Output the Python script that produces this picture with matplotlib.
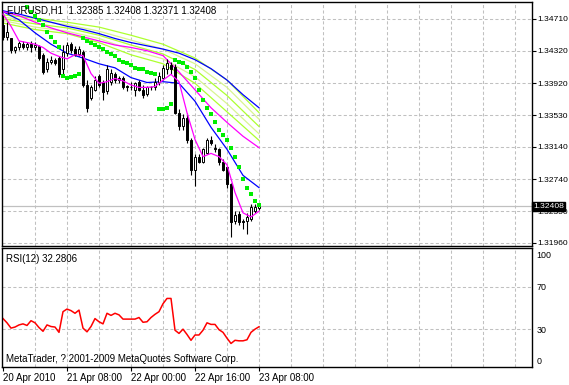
import numpy as np
import matplotlib
matplotlib.use("Agg")
import matplotlib.pyplot as plt

plt.rcParams['font.family'] = ['Liberation Sans', 'DejaVu Sans']

# EURUSD H1 candles, 20 Apr 2010 16:00 .. 23 Apr 2010 07:00
opens = [1.3464, 1.3449, 1.3447, 1.3433, 1.3436, 1.3440, 1.3437, 1.3440, 1.3436, 1.3438,
         1.3427, 1.3409, 1.3418, 1.3421, 1.3423, 1.3409, 1.3429, 1.3440, 1.3434, 1.3428,
         1.3431, 1.3390, 1.3374, 1.3384, 1.3401, 1.3393, 1.3382, 1.3394, 1.3404, 1.3396,
         1.3399, 1.3389, 1.3387, 1.3384, 1.3393, 1.3384, 1.3379, 1.3387, 1.3387, 1.3393,
         1.3399, 1.3409, 1.3415, 1.3412, 1.3355, 1.3339, 1.3350, 1.3323, 1.3286, 1.3301,
         1.3296, 1.3307, 1.3323, 1.3313, 1.3311, 1.3295, 1.3289, 1.3268, 1.3223, 1.3231,
         1.3223, 1.3223, 1.3225, 1.3235, 1.32385]
highs = [1.3478, 1.3467, 1.3448, 1.3438, 1.3444, 1.3444, 1.3443, 1.3444, 1.3443, 1.3439,
         1.3429, 1.3423, 1.3425, 1.3423, 1.3426, 1.3439, 1.3443, 1.3443, 1.3438, 1.3438,
         1.3433, 1.3396, 1.3390, 1.3401, 1.3404, 1.3396, 1.3414, 1.3409, 1.3406, 1.3401,
         1.3401, 1.3390, 1.3393, 1.3394, 1.3396, 1.3390, 1.3389, 1.3389, 1.3398, 1.3406,
         1.3415, 1.3422, 1.3418, 1.3416, 1.3360, 1.3354, 1.3355, 1.3325, 1.3305, 1.3305,
         1.3313, 1.3325, 1.3327, 1.3317, 1.3313, 1.3299, 1.3291, 1.3270, 1.3235, 1.3235,
         1.3225, 1.3233, 1.3244, 1.3244, 1.32408]
lows = [1.3445, 1.3445, 1.3429, 1.3429, 1.3433, 1.3434, 1.3433, 1.3431, 1.3433, 1.3421,
        1.3403, 1.3406, 1.3416, 1.3414, 1.3400, 1.3403, 1.3426, 1.3429, 1.3426, 1.3426,
        1.3387, 1.3357, 1.3372, 1.3382, 1.3388, 1.3372, 1.3379, 1.3390, 1.3392, 1.3392,
        1.3385, 1.3383, 1.3384, 1.3377, 1.3382, 1.3374, 1.3377, 1.3384, 1.3384, 1.3390,
        1.3396, 1.3403, 1.3404, 1.3354, 1.3335, 1.3335, 1.3319, 1.3280, 1.3266, 1.3294,
        1.3294, 1.3305, 1.3316, 1.3308, 1.3292, 1.3284, 1.3264, 1.3203, 1.3219, 1.3218,
        1.3213, 1.3207, 1.3223, 1.3233, 1.32371]
closes = [1.3449, 1.3455, 1.3433, 1.3436, 1.3442, 1.3437, 1.3440, 1.3436, 1.3439, 1.3423,
          1.3406, 1.3418, 1.3421, 1.3417, 1.3403, 1.3431, 1.3439, 1.3433, 1.3427, 1.3434,
          1.3390, 1.3362, 1.3387, 1.3396, 1.3390, 1.3381, 1.3409, 1.3405, 1.3396, 1.3399,
          1.3388, 1.3387, 1.3388, 1.3392, 1.3384, 1.3378, 1.3387, 1.3387, 1.3394, 1.3401,
          1.3411, 1.3417, 1.3409, 1.3356, 1.3339, 1.3350, 1.3323, 1.3286, 1.3301, 1.3296,
          1.3311, 1.3323, 1.3319, 1.3311, 1.3295, 1.3286, 1.3268, 1.3222, 1.3230, 1.3222,
          1.3222, 1.3228, 1.3240, 1.3240, 1.32408]

# parabolic SAR (first bars are above the visible range)
sar = [None, None, None, None, None, None, 1.3486, 1.3480, 1.3475, 1.3470,
       1.3464, 1.3455, 1.3449, 1.3443, 1.3437, 1.3401, 1.3399, 1.3400, 1.3401, 1.3404,
       1.3447, 1.3444, 1.3442, 1.3439, 1.3437, 1.3434, 1.3431, 1.3428, 1.3425, 1.3421,
       1.3418, 1.3417, 1.3414, 1.3411, 1.3410, 1.3409, 1.3406, 1.3405, 1.3403, 1.3360,
       1.3361, 1.3362, 1.3366, 1.3421, 1.3418, 1.3417, 1.3412, 1.3406, 1.3398, 1.3384,
       1.3372, 1.3362, 1.3354, 1.3344, 1.3335, 1.3329, 1.3323, 1.3313, 1.3301, 1.3289,
       1.3275, 1.3264, 1.3256, 1.3248, 1.3243]

# moving averages read every 4 bars
ma_bars = [0, 4, 8, 12, 16, 20, 24, 28, 32, 36, 40, 44, 48, 52, 56, 60, 64]
blue_slow = [1.3481, 1.3477, 1.3472, 1.3467, 1.3462, 1.3458, 1.3453, 1.3447, 1.3442,
             1.3438, 1.3434, 1.3429, 1.3421, 1.3410, 1.3396, 1.3378, 1.3362]
blue_mid = [1.3480, 1.3470, 1.3454, 1.3440, 1.3429, 1.3423, 1.3416, 1.3411, 1.3399,
            1.3393, 1.3394, 1.3392, 1.3370, 1.3338, 1.3311, 1.3279, 1.3264]
magenta_slow = [1.3480, 1.3475, 1.3467, 1.3460, 1.3454, 1.3449, 1.3444, 1.3439, 1.3436,
                1.3432, 1.3426, 1.3406, 1.3384, 1.3362, 1.3344, 1.3327, 1.3313]
# fast magenta read every 2 bars
fast_bars = list(range(0, 65, 2))
magenta_fast = [1.3477, 1.3462, 1.3444, 1.3442, 1.3440, 1.3436, 1.3429, 1.3425, 1.3422,
                1.3427, 1.3426, 1.3404, 1.3392, 1.3394, 1.3398, 1.3395, 1.3390, 1.3387,
                1.3387, 1.3388, 1.3396, 1.3403, 1.3394, 1.3356, 1.3323, 1.3302, 1.3306,
                1.3302, 1.3292, 1.3258, 1.3233, 1.3228, 1.3235]
# yellow-green fan read every 8 bars
fan_bars = [0, 8, 16, 24, 32, 40, 48, 56, 64]
fan_lines = [
    [1.3476, 1.3472, 1.3467, 1.3461, 1.3451, 1.3440, 1.3423, 1.3396, 1.3356],
    [1.3473, 1.3469, 1.3464, 1.3456, 1.3445, 1.3434, 1.3416, 1.3387, 1.3348],
    [1.3471, 1.3465, 1.3460, 1.3451, 1.3439, 1.3428, 1.3409, 1.3377, 1.3339],
    [1.3469, 1.3461, 1.3456, 1.3447, 1.3433, 1.3422, 1.3400, 1.3367, 1.3330],
    [1.3466, 1.3458, 1.3453, 1.3442, 1.3427, 1.3416, 1.3392, 1.3357, 1.3322],
]
fan_colors = ['#ADFF2F', '#D8F590', '#ADFF2F', '#D8F590', '#ADFF2F']

rsi = [40, 36, 31, 32, 34, 35, 33.5, 38, 36, 31.5,
       28, 34, 32.5, 32, 27, 46.5, 49, 47.5, 45, 48,
       31, 27.5, 32.5, 40, 37, 35, 45, 43, 45, 43.5,
       39.5, 39.5, 39.5, 39.5, 41, 36.5, 37, 41, 44, 46.5,
       54, 59, 59, 29, 26, 30, 25, 19.5, 24.5, 24.5,
       29, 36, 34.5, 34.5, 29.5, 27, 21.5, 16.5, 19.5, 19,
       19, 20, 27, 30, 32.28]

price_ticks = [1.34710, 1.34320, 1.33920, 1.33530, 1.33140, 1.32740, 1.32350, 1.31960]
rsi_ticks = [100, 70, 30, 0]
date_bars = [0, 16, 32, 48, 64]
date_labels = ['20 Apr 2010', '21 Apr 08:00', '22 Apr 00:00', '22 Apr 16:00', '23 Apr 08:00']
last_price = 1.32408

W, H = 569, 385
fig = plt.figure(figsize=(W / 100, H / 100), dpi=100)
ax = fig.add_axes([2 / W, 1 - 246 / H, 530 / W, 244 / H])
ax2 = fig.add_axes([2 / W, 1 - 367 / H, 530 / W, 119 / H])

grid_kw = dict(color='#C0C0C0', lw=0.75, ls=(0, (3, 2.2)))
xlim = (-0.25, 132.25)

# ---- price panel
n = len(closes)
x = np.arange(n)
o = np.array(opens); c = np.array(closes)
ax.vlines(x, lows, highs, color='black', lw=0.8, zorder=3)
bull = c >= o
body_h = np.abs(c - o)
body_h = np.where(body_h < 0.00004, 0.00004, body_h)
ax.bar(x, body_h, bottom=np.minimum(o, c), width=0.72,
       color=np.where(bull, 'white', 'black'), edgecolor='black', lw=0.7, zorder=4)

for line, col in zip(fan_lines, fan_colors):
    ax.plot(fan_bars, line, color=col, lw=0.9, zorder=2)
ax.plot(ma_bars, blue_slow, color='#0000FF', lw=0.9, zorder=2)
ax.plot(ma_bars, blue_mid, color='#0000FF', lw=0.9, zorder=2)
ax.plot(ma_bars, magenta_slow, color='#FF00FF', lw=0.9, zorder=2)
ax.plot(fast_bars, magenta_fast, color='#FF00FF', lw=0.9, zorder=5)

sar_arr = np.array([np.nan if v is None else v for v in sar])
ax.scatter(x, sar_arr, marker='s', s=8, color='#00EE00', lw=0, zorder=6)

ax.axhline(last_price, color='#C0C0C0', lw=0.9, zorder=1)

ax.set_xlim(*xlim)
ax.set_ylim(1.31923, 1.34918)
ax.set_yticks(price_ticks)
ax.set_yticklabels([f'{t:.5f}' for t in price_ticks])
ax.yaxis.tick_right()
ax.tick_params(axis='y', direction='out', length=3, width=0.8, pad=0.8, labelsize=6.1)
ax.set_xticks([])
ax.grid(axis='y', **grid_kw)
for b in range(8, 133, 8):
    ax.axvline(b, **grid_kw, zorder=0)
for s in ax.spines.values():
    s.set_color('black'); s.set_linewidth(1)

ax.text(0.01, 0.965, 'EURUSD,H1  1.32385 1.32408 1.32371 1.32408', transform=ax.transAxes,
        fontsize=7, va='center', ha='left', zorder=10)
ax.text(1.002, last_price + 0.00004, '1.32408', transform=ax.get_yaxis_transform(), fontsize=6.1,
        color='white', va='center', ha='left', zorder=10, clip_on=False,
        bbox=dict(boxstyle='square,pad=0.12', fc='black', ec='black'))

# ---- RSI panel
ax2.plot(x, rsi, color='#FF0000', lw=1.1)
ax2.set_xlim(*xlim)
ax2.set_ylim(-5.7, 106.6)
ax2.set_yticks(rsi_ticks)
ax2.yaxis.tick_right()
ax2.tick_params(axis='y', direction='out', length=0, pad=3, labelsize=6.4)
ax2.set_xticks(date_bars)
ax2.set_xticklabels(date_labels, ha='left')
ax2.tick_params(axis='x', direction='out', length=3, width=0.8, pad=1.5, labelsize=7)
for lv in (70, 30):
    ax2.axhline(lv, **grid_kw, zorder=0)
for b in range(8, 133, 8):
    ax2.axvline(b, **grid_kw, zorder=0)
for s in ax2.spines.values():
    s.set_color('black'); s.set_linewidth(1)
ax2.text(0.008, 0.91, 'RSI(12) 32.2806', transform=ax2.transAxes, fontsize=7, va='center')
ax2.text(0.008, 0.07, 'MetaTrader, ? 2001-2009 MetaQuotes Software Corp.',
         transform=ax2.transAxes, fontsize=7, va='center')

fig.savefig('out.png', dpi=100, facecolor='white')
